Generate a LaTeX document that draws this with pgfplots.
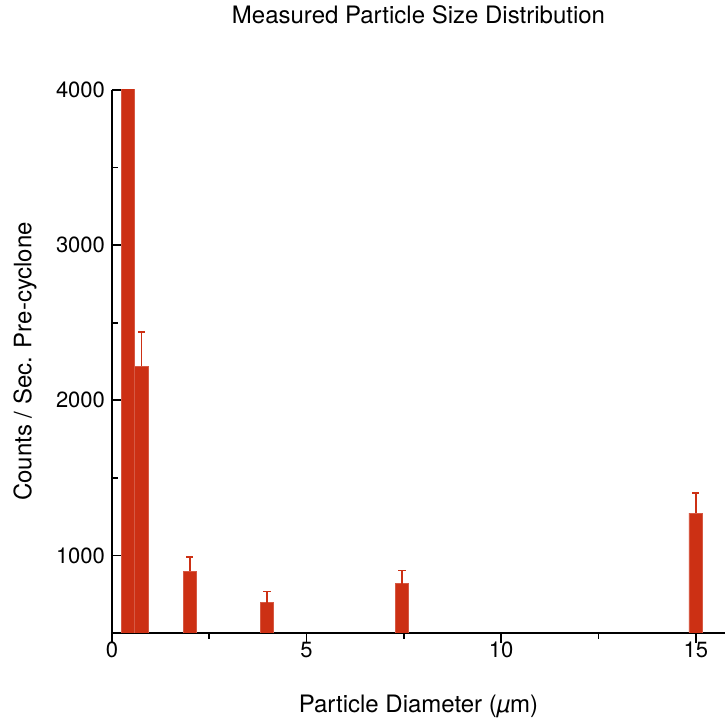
\documentclass[border=0pt]{standalone}
\usepackage{fontspec}
\setmainfont{TeX Gyre Heros}
\usepackage{pgfplots}
\pgfplotsset{compat=1.18}
\definecolor{barred}{HTML}{CC3014}
\begin{document}
\begin{tikzpicture}
\begin{axis}[
    scale only axis,
    width=306.5pt, height=271.5pt,
    xmin=0, xmax=15.75,
    ymin=500, ymax=4000,
    axis lines*=left,
    axis line style={line width=0.8pt},
    tick align=inside,
    xtick={0,5,10,15},
    ytick={1000,2000,3000,4000},
    minor x tick num=1,
    minor y tick num=1,
    major tick length=5pt,
    minor tick length=3pt,
    tick style={black, line width=0.8pt},
    /pgf/number format/assume math mode=true,
    scaled y ticks=false,
    tick label style={font=\fontsize{11}{13}\selectfont},
    yticklabel style={/pgf/number format/1000 sep={}},
    xticklabel style={yshift=4pt},
    label style={font=\fontsize{12}{14}\selectfont},
    title={Measured Particle Size Distribution},
    every axis title/.style={font=\fontsize{12}{14}\selectfont, at={(axis description cs:0.5,1.138)}, anchor=center},
    xlabel={Particle Diameter ({\itshape µ}m)},
    xlabel style={at={(axis description cs:0.5,-0.136)}, anchor=center},
    ylabel={Counts / Sec. Pre-cyclone},
    ylabel style={at={(axis description cs:-0.142,0.5)}, anchor=center},
    ybar,
    bar width=0.35,
    clip=true,
]
\addplot[fill=barred, draw=barred!80!white, line width=0.3pt,
    error bars/.cd, y dir=plus, y explicit,
    error bar style={barred, line width=0.7pt},
    error mark options={barred, mark size=1.8pt, rotate=90, line width=0.7pt}]
  coordinates {
    (0.41,4300) +- (0,0)
    (0.76,2220) +- (0,220)
    (2.0,897) +- (0,92)
    (3.98,695) +- (0,73)
    (7.45,819) +- (0,82)
    (15.0,1273) +- (0,129)
  };
\end{axis}
\pgfresetboundingbox
\path[use as bounding box] ([shift={(-56pt,-45pt)}]current axis.south west) rectangle ([shift={(0pt,45pt)}]current axis.north east);
\end{tikzpicture}
\end{document}
